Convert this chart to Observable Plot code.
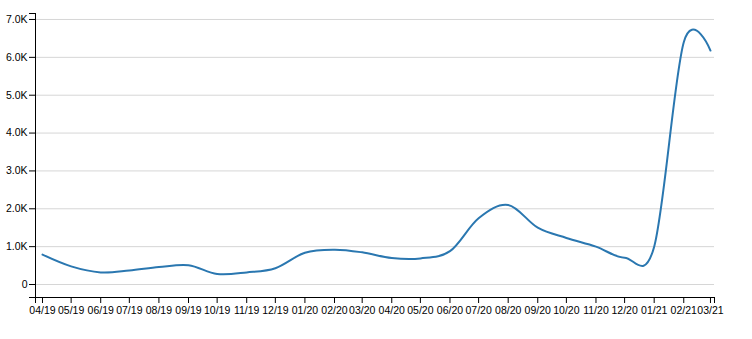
<!DOCTYPE html>
<html><head><meta charset="utf-8">
<script src="https://cdn.jsdelivr.net/npm/d3@7"></script>
<script src="https://cdn.jsdelivr.net/npm/@observablehq/plot@0.6"></script>
<style>body{margin:0;background:#fff}#chart svg{display:block}</style>
</head><body><div id="chart"></div>
<script>
const months = ["2019-04-01","2019-05-01","2019-06-01","2019-07-01","2019-08-01","2019-09-01","2019-10-01","2019-11-01","2019-12-01","2020-01-01","2020-02-01","2020-03-01","2020-04-01","2020-05-01","2020-06-01","2020-07-01","2020-08-01","2020-09-01","2020-10-01","2020-11-01","2020-12-01","2021-01-01","2021-02-01","2021-03-01"];
const values = [790,480,320,370,460,510,280,320,430,840,920,850,700,690,880,1750,2100,1500,1230,1000,710,1000,6400,6180];
const yTicks = [0,1000,2000,3000,4000,5000,6000,7000];
const yDomain = [-343, 7158];
const xDomain = [new Date("2019-03-24T16:00:00Z"), new Date("2021-03-05T05:00:00Z")];

const data = months.map((m, i) => ({date: new Date(m + "T00:00:00Z"), value: values[i]}));
const xTicks = data.map(d => d.date);
const fmtY = d => d === 0 ? "0" : (d / 1000).toFixed(1) + "K";

const chart = Plot.plot({
  width: 752,
  height: 339,
  marginLeft: 35,
  marginRight: 38,
  marginTop: 13,
  marginBottom: 42,
  style: {fontFamily: "Arial, 'Liberation Sans', sans-serif", fontSize: "10.5px", color: "#000", background: "#fff"},
  x: {type: "utc", domain: xDomain},
  y: {domain: yDomain},
  marks: [
    Plot.ruleY(yTicks, {stroke: "#d6d6d6", strokeWidth: 1}),
    Plot.lineY(data, {x: "date", y: "value", stroke: "#2a77b0", strokeWidth: 2, curve: "cardinal"}),
    Plot.ruleY([yDomain[0]], {stroke: "#000", strokeWidth: 1}),
    Plot.ruleX([xDomain[0]], {stroke: "#000", strokeWidth: 1}),
    Plot.axisY(yTicks, {tickFormat: fmtY, tickSize: 6, tickPadding: 2, stroke: "#000", fill: "#000", label: null, fontSize: 10.5}),
    Plot.axisY([yDomain[0], yDomain[1]], {tickFormat: () => "", tickSize: 6, stroke: "#000", label: null}),
    Plot.axisX(xTicks, {tickFormat: d3.utcFormat("%m/%y"), tickSize: 6, tickPadding: 3, stroke: "#000", fill: "#000", label: null, fontSize: 10.5}),
    Plot.axisX([xDomain[0], xDomain[1]], {tickFormat: () => "", tickSize: 6, stroke: "#000", label: null})
  ]
});
document.getElementById("chart").append(chart);
</script>
</body></html>
